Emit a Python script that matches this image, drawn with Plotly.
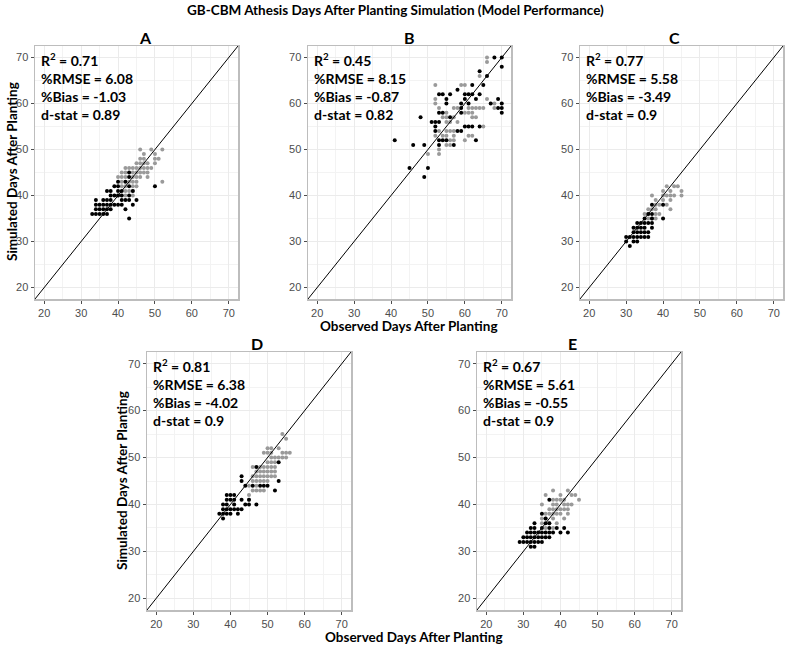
import plotly.graph_objects as go

W, H = 790, 645
AX_MIN, AX_MAX = 17.5, 72.5
MAJOR_TICKS = [20, 30, 40, 50, 60, 70]
MINOR_TICKS = [25, 35, 45, 55, 65]

PANEL_NAMES = ["A", "B", "C", "D", "E"]
R2 = ["0.71", "0.45", "0.77", "0.81", "0.67"]
RMSE = ["6.08", "8.15", "5.58", "6.38", "5.61"]
BIAS = ["-1.03", "-0.87", "-3.49", "-4.02", "-0.55"]
DSTAT = ["0.89", "0.82", "0.9", "0.9", "0.9"]

# (observed, simulated) pairs
A_BLACK = [(43, 35),
           (33, 36), (34, 36), (35, 36), (36, 36), (37, 36),
           (34, 37), (35, 37), (36, 37), (37, 37), (38, 37), (42, 37),
           (34, 38), (35, 38), (36, 38), (37, 38), (38, 38), (39, 38), (40, 38), (41, 38), (44, 38),
           (34, 39), (36, 39), (37, 39), (38, 39), (41, 39), (42, 39), (43, 39), (45, 39),
           (38, 40), (39, 40), (40, 40), (41, 40), (43, 40),
           (37, 41), (38, 41), (40, 41), (41, 41), (44, 41),
           (39, 42), (40, 42), (43, 42), (50, 42),
           (40, 43), (42, 43), (43, 44), (43, 45)]
A_GRAY = [(46, 50), (49, 50), (52, 50), (47, 49), (50, 49),
          (46, 48), (47, 48), (50, 48), (51, 48),
          (45, 47), (46, 47), (47, 47), (48, 47), (50, 47),
          (42, 46), (43, 46), (44, 46), (45, 46), (46, 46), (47, 46), (48, 46), (49, 46),
          (41, 45), (42, 45), (44, 45), (45, 45), (46, 45), (47, 45), (48, 45),
          (40, 44), (41, 44), (42, 44), (44, 44), (45, 44), (46, 44), (48, 44),
          (41, 43), (43, 43), (44, 43), (45, 43), (52, 43),
          (41, 42), (42, 42), (44, 42), (45, 42),
          (42, 41), (43, 41), (44, 41), (40, 40), (42, 40), (44, 40)]

B_BLACK = [(41, 52), (45, 46), (46, 51), (48, 57), (49, 51), (49, 44), (50, 46),
           (51, 56), (52, 56), (53, 56), (52, 55), (60, 55), (61, 55), (62, 55), (64, 55),
           (52, 54), (58, 54), (59, 54), (53, 52), (54, 52), (55, 52), (63, 52),
           (53, 51), (57, 51), (53, 62), (54, 62), (56, 62), (60, 62), (61, 62), (62, 62), (64, 62),
           (55, 61), (60, 61), (63, 61), (55, 60), (59, 60), (61, 60), (67, 60), (70, 60),
           (59, 59), (69, 59), (70, 59), (53, 58), (54, 58), (59, 58), (70, 58), (56, 57),
           (58, 63), (62, 64), (65, 64), (64, 67), (66, 66), (68, 70), (70, 70), (70, 68), (69, 61)]
B_GRAY = [(66, 70), (66, 69), (64, 66), (60, 64), (59, 64), (52, 64),
          (52, 61), (52, 60), (53, 59), (57, 59), (58, 59), (61, 59), (62, 59), (63, 59), (64, 59),
          (65, 59), (68, 59), (55, 58), (60, 58), (61, 58), (62, 58),
          (54, 57), (55, 57), (57, 57), (62, 57), (55, 56), (56, 56), (58, 56),
          (53, 54), (55, 54), (56, 54), (57, 54), (52, 53), (54, 53), (55, 53), (57, 53),
          (61, 53), (62, 53), (56, 52), (57, 52), (60, 52), (53, 50), (53, 49), (50, 49),
          (55, 51), (56, 51), (65, 55), (63, 57), (68, 60), (66, 61)]

C_BLACK = [(31, 29), (30, 30), (32, 30), (33, 30),
           (30, 31), (31, 31), (32, 31), (33, 31), (34, 31), (35, 31), (36, 31),
           (32, 32), (33, 32), (34, 32), (35, 32), (36, 32),
           (32, 33), (33, 33), (34, 33), (35, 33), (37, 33),
           (33, 34), (34, 34), (35, 34), (36, 34), (37, 34),
           (35, 35), (37, 35), (40, 35), (36, 36), (37, 36), (37, 38), (40, 38)]
C_GRAY = [(41, 42), (43, 42), (44, 42), (40, 41), (42, 41), (45, 41),
          (37, 40), (40, 40), (41, 40), (42, 40), (43, 40), (45, 40),
          (38, 39), (40, 39), (42, 39), (38, 38), (39, 38), (41, 38),
          (36, 37), (37, 37), (38, 37), (42, 37), (35, 36), (36, 36), (38, 36), (39, 36),
          (37, 35), (38, 35), (36, 35)]

D_BLACK = [(38, 37), (37, 38), (38, 38), (39, 38), (40, 38), (42, 38),
           (38, 39), (39, 39), (40, 39), (41, 39), (42, 39), (43, 39),
           (38, 40), (39, 40), (41, 40), (44, 40), (45, 40), (47, 40),
           (39, 41), (40, 41), (41, 41), (43, 41), (45, 41),
           (39, 42), (40, 42), (41, 42), (52, 43),
           (44, 44), (46, 44), (48, 44), (49, 44), (50, 44),
           (43, 45), (53, 45), (43, 46), (47, 48), (53, 49)]
D_GRAY = [(54, 55), (55, 54), (50, 52), (51, 52), (53, 52),
          (49, 51), (50, 51), (51, 51), (54, 51), (55, 51), (56, 51),
          (51, 50), (52, 50), (53, 50), (54, 50), (55, 50),
          (50, 49), (51, 49), (52, 49),
          (46, 48), (48, 48), (49, 48), (50, 48), (51, 48), (52, 48),
          (47, 47), (48, 47), (49, 47), (50, 47), (51, 47), (52, 47),
          (46, 46), (47, 46), (48, 46), (49, 46), (50, 46), (51, 46), (52, 46),
          (46, 45), (47, 45), (48, 45), (49, 45), (50, 45),
          (45, 44), (47, 44), (46, 43), (47, 43), (48, 43), (49, 43), (45, 42), (45, 41)]

E_BLACK = [(32, 31), (33, 31),
           (29, 32), (30, 32), (31, 32), (32, 32), (33, 32), (34, 32), (35, 32),
           (30, 33), (31, 33), (32, 33), (33, 33), (34, 33), (35, 33), (36, 33), (37, 33),
           (31, 34), (32, 34), (33, 34), (34, 34), (35, 34), (36, 34), (37, 34), (38, 34), (40, 34), (42, 34),
           (32, 35), (33, 35), (35, 35), (37, 35), (39, 35), (41, 35),
           (33, 36), (36, 36), (37, 36), (36, 37), (35, 38), (37, 41)]
E_GRAY = [(38, 43), (42, 43), (36, 42), (40, 42), (43, 42), (44, 42),
          (38, 41), (39, 41), (40, 41), (41, 41), (45, 41),
          (35, 40), (38, 40), (39, 40), (41, 40), (42, 40), (43, 40),
          (37, 39), (38, 39), (39, 39), (40, 39), (41, 39), (42, 39),
          (36, 38), (37, 38), (38, 38), (39, 38), (40, 38), (42, 38),
          (35, 37), (36, 37), (38, 37), (41, 37), (35, 36), (37, 36), (39, 36),
          (36, 35), (38, 35)]

BLACKS = [A_BLACK, B_BLACK, C_BLACK, D_BLACK, E_BLACK]
GRAYS = [A_GRAY, B_GRAY, C_GRAY, D_GRAY, E_GRAY]

# panel boxes in pixels: left, right, top, bottom
BOXES = [(35, 238, 46, 299), (308, 511, 46, 299), (580, 783, 46, 299),
         (147, 351, 352, 610), (477, 681, 352, 610)]

TXT_FONT = "Lato, 'Open Sans', sans-serif"
TICK_FONT = "'Liberation Sans', Arial, sans-serif"


def px_x(p):
    return p / W


def px_y(p):
    return 1 - p / H


fig = go.Figure()
annotations = []
for i, name in enumerate(PANEL_NAMES):
    sfx = "" if i == 0 else str(i + 1)
    xa, ya = "x" + sfx, "y" + sfx
    gray, black = GRAYS[i], BLACKS[i]
    fig.add_trace(go.Scatter(x=[p[0] for p in gray], y=[p[1] for p in gray], mode="markers",
                             marker=dict(color="#9A9A9A", size=4), xaxis=xa, yaxis=ya,
                             showlegend=False, hoverinfo="skip"))
    fig.add_trace(go.Scatter(x=[p[0] for p in black], y=[p[1] for p in black], mode="markers",
                             marker=dict(color="#000000", size=4), xaxis=xa, yaxis=ya,
                             showlegend=False, hoverinfo="skip"))
    fig.add_trace(go.Scatter(x=[AX_MIN, AX_MAX], y=[AX_MIN, AX_MAX], mode="lines",
                             line=dict(color="#000000", width=1), xaxis=xa, yaxis=ya,
                             showlegend=False, hoverinfo="skip"))
    l, r, t, b = BOXES[i]
    common = dict(range=[AX_MIN, AX_MAX], tickvals=MAJOR_TICKS, ticks="outside", ticklen=3,
                  tickcolor="#4D4D4D", tickwidth=1,
                  tickfont=dict(family=TICK_FONT, size=11, color="#4D4D4D"),
                  showgrid=True, gridcolor="#EBEBEB", gridwidth=1,
                  minor=dict(tickvals=MINOR_TICKS, showgrid=True, gridcolor="#F3F3F3",
                             gridwidth=1, ticks=""),
                  showline=True, mirror=True, linecolor="#BDBDBD", linewidth=1.5,
                  zeroline=False, fixedrange=True)
    fig.layout["xaxis" + sfx] = dict(common, domain=[px_x(l), px_x(r)], anchor=ya)
    fig.layout["yaxis" + sfx] = dict(common, domain=[px_y(b), px_y(t)], anchor=xa)
    annotations.append(dict(text="<b>" + name + "</b>", x=px_x((l + r) / 2), y=px_y(t - 9),
                            xref="paper", yref="paper", showarrow=False, yanchor="middle",
                            font=dict(family=TXT_FONT, size=16, color="#000")))
    stat_txt = ("<b>R<sup>2</sup> = %s<br>%%RMSE = %s<br>%%Bias = %s<br>d-stat = %s</b>"
                % (R2[i], RMSE[i], BIAS[i], DSTAT[i]))
    annotations.append(dict(text=stat_txt, x=px_x(l + 4), y=px_y(t + 2), xref="paper",
                            yref="paper", showarrow=False, xanchor="left", yanchor="top",
                            align="left", font=dict(family=TXT_FONT, size=14, color="#000")))

annotations += [
    dict(text="<b>GB-CBM Athesis Days After Planting Simulation (Model Performance)</b>",
         x=0.5, y=px_y(10), xref="paper", yref="paper", showarrow=False, yanchor="middle",
         font=dict(family=TXT_FONT, size=13.5, color="#000")),
    dict(text="<b>Observed Days After Planting</b>", x=px_x(409), y=px_y(326), xref="paper",
         yref="paper", showarrow=False, yanchor="middle",
         font=dict(family=TXT_FONT, size=13.5, color="#000")),
    dict(text="<b>Observed Days After Planting</b>", x=px_x(414), y=px_y(637), xref="paper",
         yref="paper", showarrow=False, yanchor="middle",
         font=dict(family=TXT_FONT, size=13.5, color="#000")),
    dict(text="<b>Simulated Days After Planting</b>", x=px_x(2), y=px_y(172), xref="paper",
         yref="paper", showarrow=False, textangle=-90, xanchor="left", yanchor="middle",
         font=dict(family=TXT_FONT, size=13.5, color="#000")),
    dict(text="<b>Simulated Days After Planting</b>", x=px_x(112), y=px_y(481), xref="paper",
         yref="paper", showarrow=False, textangle=-90, xanchor="left", yanchor="middle",
         font=dict(family=TXT_FONT, size=13.5, color="#000")),
]

fig.update_layout(width=W, height=H, margin=dict(l=0, r=0, t=0, b=0),
                  paper_bgcolor="white", plot_bgcolor="white",
                  annotations=annotations, showlegend=False)

fig.write_html("out.html", config={"displayModeBar": False, "staticPlot": True},
               post_script="document.body.style.margin='0px';")
